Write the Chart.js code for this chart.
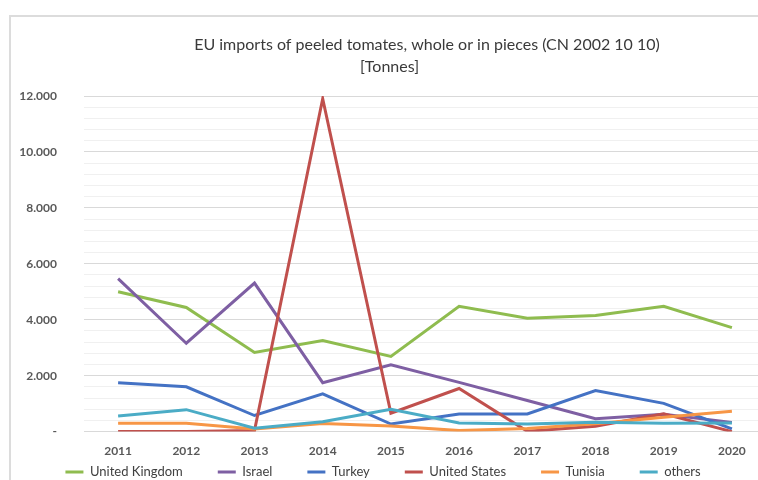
<!DOCTYPE html>
<html>
<head>
<meta charset="utf-8">
<script src="https://cdn.jsdelivr.net/npm/chart.js@4.4.1/dist/chart.umd.min.js"></script>
<style>
  html, body { margin: 0; padding: 0; background: #ffffff; overflow: hidden; width: 758px; height: 480px; }
  #frame { position: absolute; left: 9px; top: 15px; width: 800px; height: 520px;
           border-left: 2px solid #dcdcdc; border-top: 2px solid #dcdcdc; }
  #wrap { position: absolute; left: 0; top: 0; width: 771px; height: 528px; }
</style>
</head>
<body>
<div id="frame"></div>
<div id="wrap"><canvas id="c"></canvas></div>
<script>
const titleLine1 = 'EU imports of peeled tomates, whole or in pieces (CN 2002 10 10)';
const titleLine2 = '[Tonnes]';
const years = ['2011', '2012', '2013', '2014', '2015', '2016', '2017', '2018', '2019', '2020'];
const unitedKingdom = [5000, 4440, 2830, 3260, 2690, 4480, 4050, 4150, 4480, 3720];
const israel        = [5470, 3160, 5310, 1750, 2390, 1760, 1110, 460, 620, 330];
const turkey        = [1750, 1600, 575, 1350, 270, 630, 630, 1470, 1010, 95];
const unitedStates  = [0, 0, 40, 11900, 655, 1540, 10, 190, 640, 0];
const tunisia       = [300, 300, 90, 290, 200, 35, 110, 285, 510, 725];
const others        = [555, 785, 120, 350, 795, 310, 270, 330, 300, 310];
const seriesNames   = ['United Kingdom', 'Israel', 'Turkey', 'United States', 'Tunisia', 'others'];
const seriesColors  = ['#8fbc4f', '#7e5fa3', '#4472c4', '#c0504d', '#f79646', '#4bacc6'];
const seriesValues  = [unitedKingdom, israel, turkey, unitedStates, tunisia, others];

function fmt(v) {
  if (v === 0) return '-';
  return String(v).replace(/\B(?=(\d{3})+(?!\d))/g, '.');
}

const titlePlugin = {
  id: 'twoLineTitle',
  afterDraw(chart) {
    const ctx = chart.ctx;
    ctx.save();
    ctx.fillStyle = '#3a3a3a';
    ctx.font = '16px Lato';
    ctx.textAlign = 'center';
    ctx.textBaseline = 'middle';
    ctx.fillText(titleLine1, 427, 45);
    ctx.fillText(titleLine2, 389.5, 67);
    ctx.restore();
  }
};

// lift the legend up, right under the x-axis labels (Excel style compact legend)
const legendLift = {
  id: 'legendLift',
  afterLayout(chart) {
    const lg = chart.legend;
    if (!lg) return;
    const top = chart.chartArea.bottom - 1;
    lg.bottom = top + lg.height;
    lg.top = top;
  }
};

new Chart(document.getElementById('c'), {
  type: 'line',
  data: {
    labels: years,
    datasets: seriesNames.map((name, i) => ({
      label: name,
      data: seriesValues[i],
      borderColor: seriesColors[i],
      backgroundColor: seriesColors[i],
      borderWidth: 3,
      pointRadius: 0,
      tension: 0,
      fill: false,
      order: seriesNames.length - i
    }))
  },
  options: {
    responsive: true,
    maintainAspectRatio: false,
    animation: false,
    layout: { padding: { top: 96, right: 5, bottom: 0, left: 0 } },
    plugins: {
      title: { display: false },
      tooltip: { enabled: false },
      legend: {
        position: 'bottom',
        align: 'center',
        labels: {
          usePointStyle: true,
          pointStyle: 'line',
          pointStyleWidth: 18,
          padding: 35,
          color: '#404040',
          font: { family: 'Lato', size: 13 },
          sort: (a, b) => a.datasetIndex - b.datasetIndex
        }
      }
    },
    scales: {
      x: {
        offset: true,
        grid: { display: false, drawTicks: false },
        border: { display: true, color: '#d9d9d9', width: 1 },
        ticks: { padding: 12, color: '#595959', font: { family: 'Lato', size: 12, weight: 'bold' }, maxRotation: 0 }
      },
      y: {
        min: 0,
        max: 12000,
        grid: {
          drawTicks: false,
          color: c => (c.tick && c.tick.value % 2000 === 0) ? '#d9d9d9' : '#f0f0f0',
          lineWidth: 1
        },
        border: { display: false },
        ticks: {
          stepSize: 400,
          autoSkip: false,
          padding: 27,
          color: '#595959',
          font: { family: 'Lato', size: 12, weight: 'bold' },
          callback: v => (v % 2000 === 0 ? fmt(v) : '')
        },
        afterFit: s => { s.width = 84; }
      }
    }
  },
  plugins: [titlePlugin, legendLift]
});
</script>
</body>
</html>
